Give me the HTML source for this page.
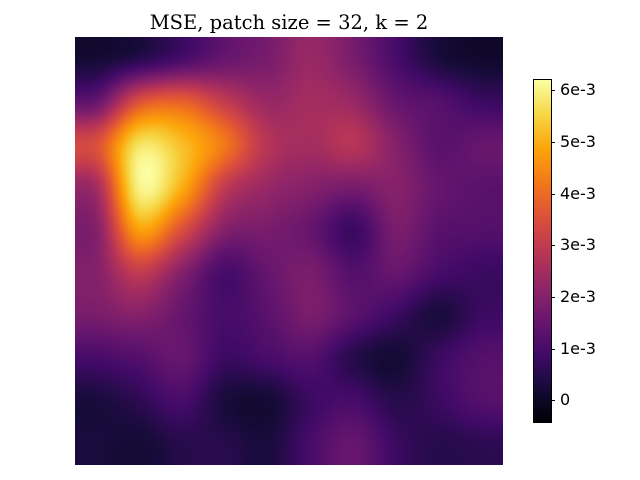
<!DOCTYPE html>
<html><head><meta charset="utf-8"><style>
body{margin:0;background:#fff;width:640px;height:480px;overflow:hidden;position:relative;font-family:"DejaVu Sans","Liberation Sans",sans-serif}
#title{position:absolute;top:11px;left:75px;width:428px;text-align:center;font-family:"DejaVu Serif","Liberation Serif",serif;font-size:19.5px;color:#000;white-space:nowrap}
canvas{position:absolute}
.tk{position:absolute;left:560px;font-size:16px;color:#000;line-height:18px}
.tl{position:absolute;left:551px;width:4px;height:1px;background:#000}
</style></head><body>
<div id="title">MSE, patch size = 32, k = 2</div>
<canvas id="hm" width="428" height="428" style="left:75px;top:37px"></canvas>
<canvas id="cb" width="17" height="342" style="left:534px;top:80px;outline:1px solid #000"></canvas>
<div id="ticks"></div>
<script>
// values in units of 1e-3, rows top->bottom, columns left->right
const rowValues = [
[0.2,0.5,1.0,1.5,1.8,2.3,1.8,1.0,0.3,0.1],
[1.5,3.5,3.8,3.0,2.3,2.5,2.3,1.5,1.2,0.8],
[3.5,5.7,5.2,4.2,2.8,2.5,2.8,2.0,1.3,1.5],
[2.5,6.0,5.0,3.0,2.3,2.0,1.8,2.0,1.5,1.3],
[2.0,4.8,3.5,2.0,1.8,1.5,0.8,1.8,1.3,1.2],
[2.0,3.0,2.0,1.0,1.5,1.8,1.2,1.5,1.0,0.8],
[1.8,2.0,1.5,1.0,1.3,1.8,1.3,0.8,0.3,0.8],
[1.0,1.2,1.5,0.8,1.0,1.2,0.5,0.2,0.8,1.2],
[0.3,0.6,1.0,0.3,0.2,0.8,1.0,0.5,0.8,1.2],
[0.3,0.2,0.5,0.5,0.3,1.0,1.5,0.8,0.5,0.6]];
const tickValues = [0,1,2,3,4,5,6];
const tickLabels = ["0","1e-3","2e-3","3e-3","4e-3","5e-3","6e-3"];
const vmin = -0.42, vmax = 6.2;

const inf=[[0,0,4],[22,11,57],[66,10,104],[106,23,110],[147,38,103],[188,55,84],[221,81,58],[243,120,25],[252,165,10],[246,215,70],[252,255,164]];
function cmap(v){let t=(v-vmin)/(vmax-vmin);t=Math.max(0,Math.min(1,t))*10;let i=Math.min(9,Math.floor(t)),f=t-i;
 return inf[i].map((c,k)=>Math.round(c+(inf[i+1][k]-c)*f));}
function cr(p0,p1,p2,p3,t){return 0.5*(2*p1+(-p0+p2)*t+(2*p0-5*p1+4*p2-p3)*t*t+(-p0+3*p1-3*p2+p3)*t*t*t);}
const R=rowValues.length,C=rowValues[0].length;
function g(r,c){r=Math.max(0,Math.min(R-1,r));c=Math.max(0,Math.min(C-1,c));return rowValues[r][c];}
function sample(y,x){const r0=Math.floor(y),c0=Math.floor(x),ty=y-r0,tx=x-c0;const rows=[];
 for(let j=-1;j<3;j++)rows.push(cr(g(r0+j,c0-1),g(r0+j,c0),g(r0+j,c0+1),g(r0+j,c0+2),tx));
 return cr(rows[0],rows[1],rows[2],rows[3],ty);}
const W=428,ctx=document.getElementById('hm').getContext('2d'),img=ctx.createImageData(W,W);
for(let py=0;py<W;py++)for(let px=0;px<W;px++){
 const v=sample((py+0.5)/W*R-0.5,(px+0.5)/W*C-0.5),col=cmap(v),o=(py*W+px)*4;
 img.data[o]=col[0];img.data[o+1]=col[1];img.data[o+2]=col[2];img.data[o+3]=255;}
ctx.putImageData(img,0,0);
const cb=document.getElementById('cb').getContext('2d');
for(let y=0;y<342;y++){const v=vmax-(y+0.5)/342*(vmax-vmin);const c=cmap(v);cb.fillStyle=`rgb(${c})`;cb.fillRect(0,y,17,1);}
const tk=document.getElementById('ticks');
tickValues.forEach((tv,i)=>{const y=80+(vmax-tv)/(vmax-vmin)*342;
 const l=document.createElement('div');l.className='tl';l.style.top=y+'px';
 
 
 tk.appendChild(l);
 const d=document.createElement('div');d.className='tk';d.style.top=(y-9)+'px';d.textContent=tickLabels[i];
 
 
 tk.appendChild(d);});
</script>
</body></html>
